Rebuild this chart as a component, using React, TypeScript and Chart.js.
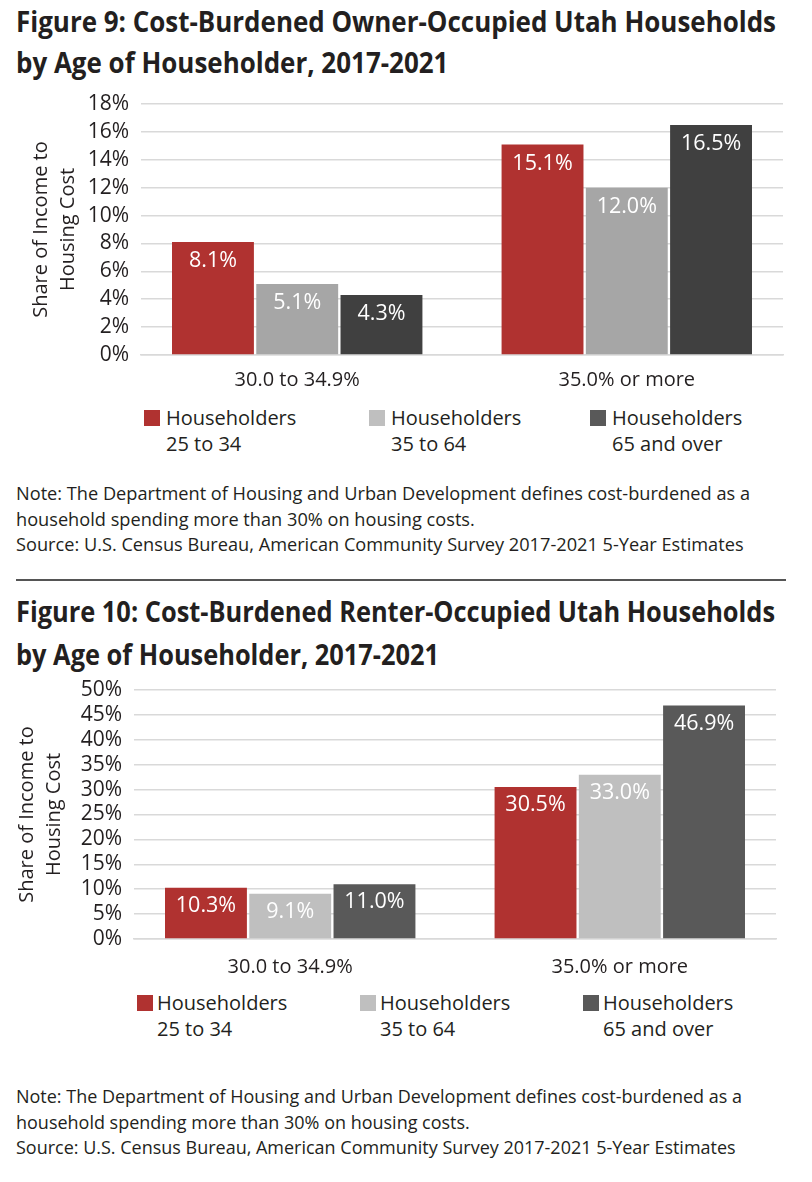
import React, { useEffect, useRef } from "react";
import { Chart, registerables, CategoryScale } from "chart.js";

// Category scale whose two category centres sit slightly further apart than the default
class SpreadCategoryScale extends (CategoryScale as any) {
  static id = "spreadCategory";
  static defaults = (CategoryScale as any).defaults;
  configure() {
    super.configure();
    const pad = (this as any).options.edgePad ?? 0.5;
    (this as any)._startValue = (this as any).min - pad;
    (this as any)._valueRange = (this as any).max - (this as any).min + 2 * pad;
  }
}

Chart.register(...registerables, SpreadCategoryScale as any);

// ---------- data ----------
const categories = ["30.0 to 34.9%", "35.0% or more"];
const seriesNames = ["Householders 25 to 34", "Householders 35 to 64", "Householders 65 and over"];
const legendLines = [
  ["Householders", "25 to 34"],
  ["Householders", "35 to 64"],
  ["Householders", "65 and over"],
];
const ownerAge25to34 = [8.1, 15.1];
const ownerAge35to64 = [5.1, 12.0];
const ownerAge65plus = [4.3, 16.5];
const renterAge25to34 = [10.3, 30.5];
const renterAge35to64 = [9.1, 33.0];
const renterAge65plus = [11.0, 46.9];
const ownerAxisMax = 18;
const ownerAxisStep = 2;
const renterAxisMax = 50;
const renterAxisStep = 5;
const yAxisTitle = ["Share of Income to", "Housing Cost"];
const titleOwner = ["Figure 9: Cost-Burdened Owner-Occupied Utah Households", "by Age of Householder, 2017-2021"];
const titleRenter = ["Figure 10: Cost-Burdened Renter-Occupied Utah Households", "by Age of Householder, 2017-2021"];
const noteLines = [
  "Note: The Department of Housing and Urban Development defines cost-burdened as a",
  "household spending more than 30% on housing costs.",
  "Source: U.S. Census Bureau, American Community Survey 2017-2021 5-Year Estimates",
];

// ---------- styles ----------
const RED = "#b03230";
const OWNER_COLORS = [RED, "#a6a6a6", "#404040"];
const RENTER_COLORS = [RED, "#bfbfbf", "#595959"];
const LEGEND_COLORS = [RED, "#bfbfbf", "#595959"];
const TEXT = "#231f20";
const FONT = "'Open Sans', 'Noto Sans', sans-serif";

let measureCtx: CanvasRenderingContext2D | null = null;
function measure(text: string, font: string) {
  if (!measureCtx) measureCtx = document.createElement("canvas").getContext("2d");
  if (!measureCtx) return 1;
  measureCtx.font = font;
  return measureCtx.measureText(text).width || 1;
}

const valueLabels = {
  id: "valueLabels",
  afterDatasetsDraw(chart: any, _args: any, opts: any) {
    const ctx = chart.ctx;
    ctx.save();
    ctx.fillStyle = "#ffffff";
    ctx.font = `${opts.size}px ${FONT}`;
    ctx.textAlign = "center";
    ctx.textBaseline = "middle";
    chart.data.datasets.forEach((ds: any, i: number) => {
      const meta = chart.getDatasetMeta(i);
      meta.data.forEach((bar: any, j: number) => {
        ctx.fillText(Number(ds.data[j]).toFixed(1) + "%", bar.x, bar.y + opts.offset);
      });
    });
    ctx.restore();
  },
};

type BarProps = {
  height: number;
  areaLeft: number;
  areaRight: number;
  areaTop: number;
  areaBottom: number;
  max: number;
  step: number;
  series: number[][];
  colors: string[];
  titleLeft: number;
  labelOffset: number;
  xPad: number;
};

const PAD_TOP = 28;

function BarChart(p: BarProps) {
  const ref = useRef<HTMLCanvasElement | null>(null);
  const top = p.areaTop - PAD_TOP;
  useEffect(() => {
    if (!ref.current) return;
    const chart = new Chart(ref.current, {
      type: "bar",
      data: {
        labels: categories,
        datasets: p.series.map((s, i) => ({
          label: seriesNames[i],
          data: s,
          backgroundColor: p.colors[i],
          borderWidth: 0,
          barPercentage: 0.972,
          categoryPercentage: 0.767,
        })),
      },
      options: {
        animation: false,
        responsive: false,
        maintainAspectRatio: false,
        layout: {
          padding: { top: PAD_TOP, right: 812 - p.areaRight, left: 0, bottom: 0 },
        },
        plugins: {
          legend: { display: false },
          tooltip: { enabled: false },
          valueLabels: { size: 21.5, offset: p.labelOffset },
        } as any,
        scales: {
          x: {
            type: "spreadCategory" as any,
            edgePad: 0.474,
            grid: { display: false, drawTicks: false },
            border: { display: true, color: "#d9d9d9", width: 1.5 },
            ticks: { color: TEXT, font: { family: FONT, size: 20 }, padding: p.xPad },
            afterFit: (s: any) => {
              s.height = top + p.height - p.areaBottom;
            },
          } as any,
          y: {
            min: 0,
            max: p.max,
            grid: { color: "#d9d9d9", lineWidth: 1.5, drawTicks: false },
            border: { display: false },
            ticks: {
              stepSize: p.step,
              autoSkip: false,
              color: TEXT,
              font: { family: FONT, size: 21 },
              padding: 12,
              callback: (v: any) => v + "%",
            },
            title: {
              display: true,
              text: yAxisTitle,
              color: TEXT,
              font: { family: FONT, size: 20, lineHeight: 1.35 },
              padding: { top: p.titleLeft, bottom: 0 },
            },
            afterFit: (s: any) => {
              s.width = p.areaLeft;
            },
          },
        },
      },
      plugins: [valueLabels as any],
    });
    return () => chart.destroy();
  }, []);
  return (
    <canvas
      ref={ref}
      width={812}
      height={p.height}
      style={{ position: "absolute", left: 0, top, width: 812, height: p.height }}
    />
  );
}

function FitLines({
  lines,
  top,
  left,
  width,
  weight,
  size,
  lineHeight,
}: {
  lines: string[];
  top: number;
  left: number;
  width: number;
  weight: number;
  size: number;
  lineHeight: number;
}) {
  const scale = width / measure(lines[0], `${weight} ${size}px ${FONT}`);
  return (
    <div
      style={{
        position: "absolute",
        left,
        top,
        fontFamily: FONT,
        fontWeight: weight,
        fontSize: size,
        lineHeight: `${lineHeight}px`,
        color: TEXT,
        whiteSpace: "nowrap",
        transform: `scaleX(${scale})`,
        transformOrigin: "left top",
      }}
    >
      {lines.map((l, i) => (
        <div key={i}>{l}</div>
      ))}
    </div>
  );
}

function Legend({ top, xs, textGap }: { top: number; xs: number[]; textGap: number }) {
  return (
    <>
      {legendLines.map((lines, i) => (
        <React.Fragment key={i}>
          <div
            style={{
              position: "absolute",
              left: xs[i],
              top: top,
              width: 16,
              height: 16,
              background: LEGEND_COLORS[i],
            }}
          />
          <div
            style={{
              position: "absolute",
              left: xs[i] + textGap,
              top: top - 5,
              fontFamily: FONT,
              fontSize: 20,
              lineHeight: "26px",
              color: TEXT,
              whiteSpace: "nowrap",
            }}
          >
            {lines.map((l, k) => (
              <div key={k}>{l}</div>
            ))}
          </div>
        </React.Fragment>
      ))}
    </>
  );
}

export default function App() {
  return (
    <div
      style={{
        position: "absolute",
        left: 0,
        top: 0,
        width: 812,
        height: 1182,
        background: "#ffffff",
        overflow: "hidden",
      }}
    >
      <FitLines lines={titleOwner} top={1} left={16} width={760} weight={700} size={28} lineHeight={41} />
      <BarChart
        height={326}
        areaLeft={141}
        areaRight={783}
        areaTop={104}
        areaBottom={355}
        max={ownerAxisMax}
        step={ownerAxisStep}
        series={[ownerAge25to34, ownerAge35to64, ownerAge65plus]}
        colors={OWNER_COLORS}
        titleLeft={28}
        labelOffset={19}
        xPad={13}
      />
      <Legend top={410} xs={[144, 369, 590]} textGap={22} />
      <FitLines lines={noteLines} top={481} left={16} width={734} weight={400} size={18} lineHeight={25.5} />
      <div style={{ position: "absolute", left: 16, top: 579, width: 770, height: 2, background: "#555" }} />
      <FitLines lines={titleRenter} top={590} left={16} width={759} weight={700} size={28} lineHeight={43} />
      <BarChart
        height={326}
        areaLeft={134}
        areaRight={776}
        areaTop={690}
        areaBottom={939}
        max={renterAxisMax}
        step={renterAxisStep}
        series={[renterAge25to34, renterAge35to64, renterAge65plus]}
        colors={RENTER_COLORS}
        titleLeft={14}
        labelOffset={18}
        xPad={16}
      />
      <Legend top={995} xs={[137, 360, 583]} textGap={20} />
      <FitLines lines={noteLines} top={1084} left={16} width={726} weight={400} size={18} lineHeight={25.5} />
    </div>
  );
}
